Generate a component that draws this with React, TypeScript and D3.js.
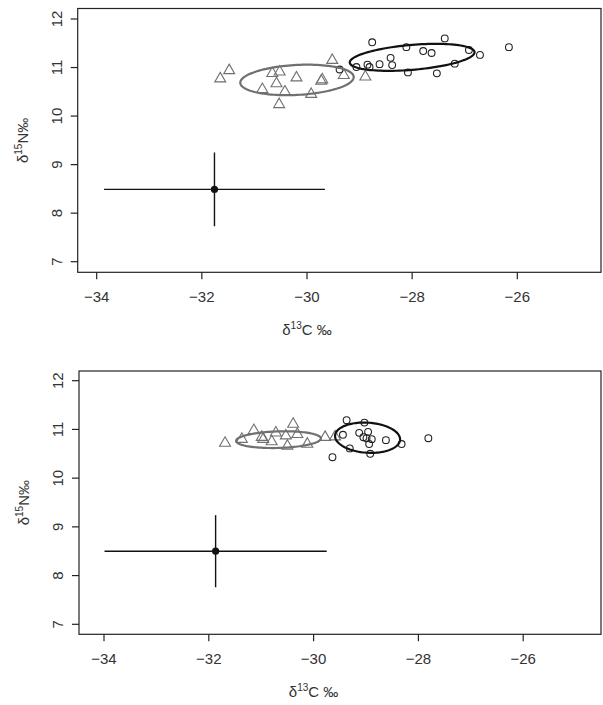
import React from "react";
import * as d3 from "d3";

// ---------- data ----------
const X_TICKS = [-34, -32, -30, -28, -26];
const Y_TICKS = [7, 8, 9, 10, 11, 12];

// top panel
const TOP_TRI_X = [-31.65, -31.48, -30.66, -30.52, -30.2, -30.58, -30.85, -30.42, -30.53, -29.92, -29.73, -29.71, -29.52, -29.3, -28.89];
const TOP_TRI_Y = [10.77, 10.94, 10.88, 10.91, 10.79, 10.67, 10.55, 10.5, 10.24, 10.45, 10.72, 10.75, 11.15, 10.84, 10.81];
const TOP_CIR_X = [-28.76, -28.11, -27.79, -27.63, -27.38, -26.92, -26.71, -26.16, -28.41, -28.38, -28.62, -28.85, -28.81, -29.06, -29.38, -28.08, -27.53, -27.19];
const TOP_CIR_Y = [11.52, 11.42, 11.34, 11.3, 11.6, 11.36, 11.26, 11.42, 11.2, 11.05, 11.07, 11.06, 11.01, 11.01, 10.96, 10.9, 10.88, 11.08];

// bottom panel
const BOT_TRI_X = [-31.69, -31.14, -31.37, -30.99, -30.96, -30.72, -30.8, -30.53, -30.39, -30.31, -30.5, -30.12, -29.78, -29.59];
const BOT_TRI_Y = [10.72, 10.98, 10.8, 10.84, 10.8, 10.93, 10.75, 10.87, 11.11, 10.9, 10.66, 10.7, 10.84, 10.85];
const BOT_CIR_X = [-29.37, -29.03, -29.44, -29.13, -28.96, -29.05, -28.99, -28.89, -28.94, -28.62, -28.32, -27.81, -29.31, -28.92, -29.64];
const BOT_CIR_Y = [11.19, 11.14, 10.89, 10.93, 10.95, 10.84, 10.82, 10.8, 10.7, 10.78, 10.7, 10.82, 10.61, 10.5, 10.43];

// standard ellipses: centre and covariance (sxx, syy, sxy)
const TOP_ELL_GREY = [-30.19, 10.745, 1.164, 0.0987, 0.0623];
const TOP_ELL_BLACK = [-28.0, 11.21, 1.409, 0.0774, 0.1243];
const BOT_ELL_GREY = [-30.67, 10.79, 0.655, 0.0296, 0.0202];
const BOT_ELL_BLACK = [-28.97, 10.83, 0.385, 0.0968, -0.0214];

// baseline mean +- sd  [meanC, sdC, meanN, sdN]
const TOP_BASE = [-31.76, 2.1, 8.49, 0.76];
const BOT_BASE = [-31.87, 2.12, 8.5, 0.74];

// ---------- drawing ----------
const FONT = "Liberation Sans, Arial, sans-serif";
const GREY = "#707070";

function ellipsePts(e: number[]) {
  const [cx, cy, sxx, syy, sxy] = e;
  const l11 = Math.sqrt(sxx);
  const l21 = sxy / l11;
  const l22 = Math.sqrt(syy - l21 * l21);
  return d3.range(0, 121).map((i) => {
    const t = (i / 120) * 2 * Math.PI;
    return [cx + l11 * Math.cos(t), cy + l21 * Math.cos(t) + l22 * Math.sin(t)] as [number, number];
  });
}

type PanelProps = {
  box: { l: number; t: number; r: number; b: number };
  xr: [number, number];
  yr: [number, number];
  triX: number[];
  triY: number[];
  cirX: number[];
  cirY: number[];
  ellG: number[];
  ellB: number[];
  base: number[];
};

function Panel(p: PanelProps) {
  const x = d3.scaleLinear().domain([-34, -26]).range(p.xr);
  const y = d3.scaleLinear().domain([7, 12]).range(p.yr);
  const line = d3
    .line<[number, number]>()
    .x((d) => x(d[0]))
    .y((d) => y(d[1]))
    .curve(d3.curveLinearClosed);
  const tri = d3.symbol(d3.symbolTriangle, 52)() as string;
  const { l, t, r, b } = p.box;
  const [mc, sc, mn, sn] = p.base;
  const tick = 7;
  return (
    <g>
      <rect x={l} y={t} width={r - l} height={b - t} fill="none" stroke="#222" strokeWidth={1.2} />
      {X_TICKS.map((v) => (
        <g key={"x" + v}>
          <line x1={x(v)} x2={x(v)} y1={b} y2={b + tick} stroke="#222" strokeWidth={1.2} />
          <text x={x(v)} y={b + 30} textAnchor="middle" fontSize={15} fill="#333" fontFamily={FONT}>
            {"\u2212" + Math.abs(v)}
          </text>
        </g>
      ))}
      {Y_TICKS.map((v) => (
        <g key={"y" + v}>
          <line x1={l - tick} x2={l} y1={y(v)} y2={y(v)} stroke="#222" strokeWidth={1.2} />
          <text
            transform={`translate(${l - 16},${y(v)}) rotate(-90)`}
            textAnchor="middle"
            fontSize={15}
            fill="#333"
            fontFamily={FONT}
          >
            {v}
          </text>
        </g>
      ))}
      <text x={x(-30)} y={b + 63} textAnchor="middle" fontSize={15} fill="#333" fontFamily={FONT}>
        δ<tspan dy={-6} fontSize={10}>13</tspan>
        <tspan dy={6}>C ‰</tspan>
      </text>
      <text
        transform={`translate(${l - 50},${(t + b) / 2}) rotate(-90)`}
        textAnchor="middle"
        fontSize={15}
        fill="#333"
        fontFamily={FONT}
      >
        δ<tspan dy={-6} fontSize={10}>15</tspan>
        <tspan dy={6}>N‰</tspan>
      </text>
      {/* baseline cross */}
      <line x1={x(mc - sc)} x2={x(mc + sc)} y1={y(mn)} y2={y(mn)} stroke="#111" strokeWidth={1.4} />
      <line x1={x(mc)} x2={x(mc)} y1={y(mn - sn)} y2={y(mn + sn)} stroke="#111" strokeWidth={1.4} />
      <circle cx={x(mc)} cy={y(mn)} r={3.6} fill="#111" />
      {/* triangles */}
      {p.triX.map((v, i) => (
        <path
          key={"t" + i}
          d={tri}
          transform={`translate(${x(v)},${y(p.triY[i])})`}
          fill="none"
          stroke={GREY}
          strokeWidth={1.1}
        />
      ))}
      {/* circles */}
      {p.cirX.map((v, i) => (
        <circle key={"c" + i} cx={x(v)} cy={y(p.cirY[i])} r={3.4} fill="none" stroke="#222" strokeWidth={1.1} />
      ))}
      <path d={line(ellipsePts(p.ellG)) as string} fill="none" stroke={GREY} strokeWidth={2.2} />
      <path d={line(ellipsePts(p.ellB)) as string} fill="none" stroke="#111" strokeWidth={2.2} />
    </g>
  );
}

export default function App() {
  return (
    <svg width={603} height={705} style={{ position: "absolute", left: 0, top: 0, background: "#fff" }}>
      <rect width={603} height={705} fill="#fff" />
      <Panel
        box={{ l: 77.7, t: 8.5, r: 601, b: 272.3 }}
        xr={[96.7, 517.3]}
        yr={[261.7, 19]}
        triX={TOP_TRI_X}
        triY={TOP_TRI_Y}
        cirX={TOP_CIR_X}
        cirY={TOP_CIR_Y}
        ellG={TOP_ELL_GREY}
        ellB={TOP_ELL_BLACK}
        base={TOP_BASE}
      />
      <Panel
        box={{ l: 79, t: 371, r: 601, b: 634.3 }}
        xr={[104, 523.2]}
        yr={[624.3, 380.7]}
        triX={BOT_TRI_X}
        triY={BOT_TRI_Y}
        cirX={BOT_CIR_X}
        cirY={BOT_CIR_Y}
        ellG={BOT_ELL_GREY}
        ellB={BOT_ELL_BLACK}
        base={BOT_BASE}
      />
    </svg>
  );
}
